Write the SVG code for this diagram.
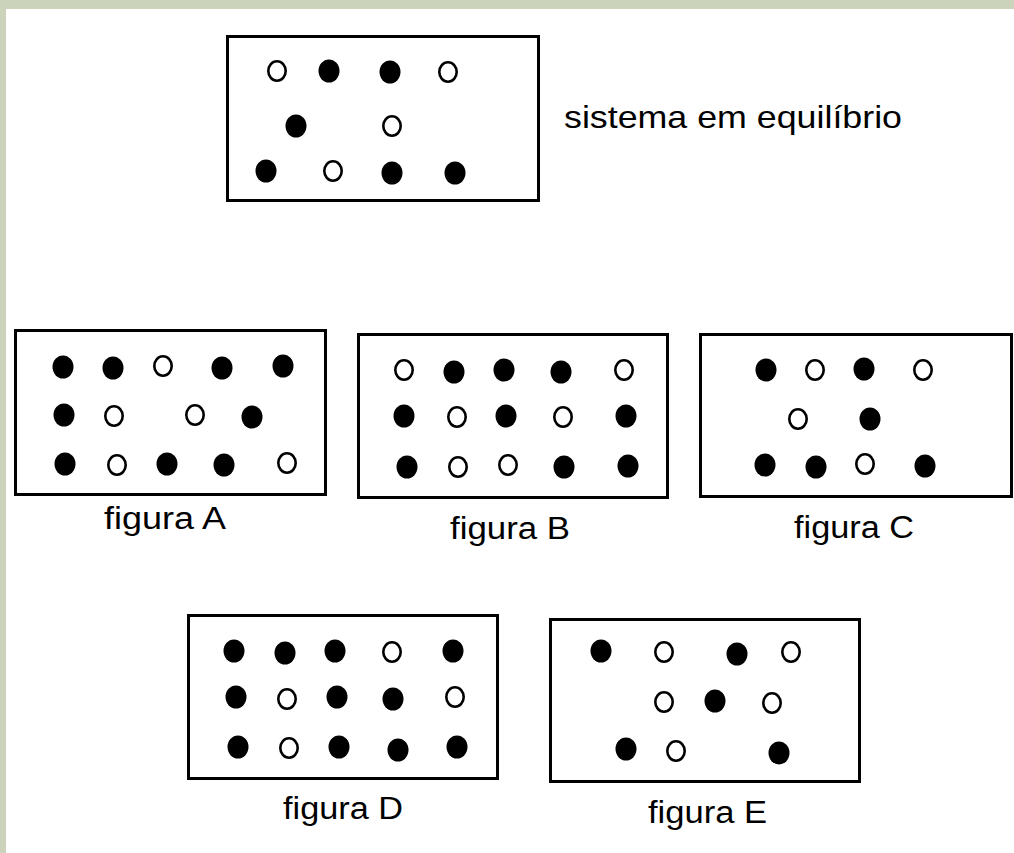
<svg xmlns="http://www.w3.org/2000/svg" width="1014" height="853" viewBox="0 0 1014 853">
  <style>
    .bg { fill: #ffffff; }
    .band { fill: #ccd3bb; }
    .box { fill: #ffffff; stroke: #000000; stroke-width: 3; }
    .f { fill: #000000; }
    .o { fill: #ffffff; stroke: #000000; stroke-width: 2.6; }
    .lbl { font-family: "Liberation Sans", Arial, sans-serif; font-size: 31px; fill: #000000; }
    .big { font-size: 32px; }
  </style>
  <defs>
    <ellipse id="fc" class="f" cx="0" cy="0" rx="10.5" ry="11.5"/>
    <ellipse id="oc" class="o" cx="0" cy="0" rx="8.7" ry="9.8"/>
  </defs>
  <rect class="bg" x="0" y="0" width="1014" height="853"/>
  <rect class="band" x="0" y="0" width="1014" height="9"/>
  <rect class="band" x="0" y="0" width="6" height="853"/>

  <g id="equilibrio">
    <rect class="box" x="227.5" y="36.5" width="311" height="164"/>
    <use href="#oc" x="277" y="71"/>
    <use href="#fc" x="329" y="71"/>
    <use href="#fc" x="390" y="72"/>
    <use href="#oc" x="448" y="72"/>
    <use href="#fc" x="296" y="126"/>
    <use href="#oc" x="392" y="126"/>
    <use href="#fc" x="266" y="171"/>
    <use href="#oc" x="333" y="171"/>
    <use href="#fc" x="392" y="173"/>
    <use href="#fc" x="455" y="173"/>
    <text class="lbl big" x="564" y="128" textLength="338" lengthAdjust="spacingAndGlyphs">sistema em equilíbrio</text>
  </g>

  <g id="figuraA">
    <rect class="box" x="15.5" y="330.5" width="310" height="164"/>
    <use href="#fc" x="63" y="367"/>
    <use href="#fc" x="113" y="368"/>
    <use href="#oc" x="163" y="366"/>
    <use href="#fc" x="222" y="368"/>
    <use href="#fc" x="283" y="366"/>
    <use href="#fc" x="64" y="415"/>
    <use href="#oc" x="114" y="416"/>
    <use href="#oc" x="195" y="415"/>
    <use href="#fc" x="252" y="417"/>
    <use href="#fc" x="65" y="464"/>
    <use href="#oc" x="117" y="465"/>
    <use href="#fc" x="167" y="464"/>
    <use href="#fc" x="224" y="465"/>
    <use href="#oc" x="287" y="463"/>
    <text class="lbl" x="104" y="529" textLength="122" lengthAdjust="spacingAndGlyphs">figura A</text>
  </g>

  <g id="figuraB">
    <rect class="box" x="358.5" y="334.5" width="309" height="163"/>
    <use href="#oc" x="404" y="370"/>
    <use href="#fc" x="454" y="372"/>
    <use href="#fc" x="504" y="370"/>
    <use href="#fc" x="561" y="372"/>
    <use href="#oc" x="624" y="370"/>
    <use href="#fc" x="404" y="416"/>
    <use href="#oc" x="457" y="417"/>
    <use href="#fc" x="506" y="416"/>
    <use href="#oc" x="563" y="417"/>
    <use href="#fc" x="626" y="416"/>
    <use href="#fc" x="407" y="467"/>
    <use href="#oc" x="458" y="467"/>
    <use href="#oc" x="508" y="465"/>
    <use href="#fc" x="564" y="467"/>
    <use href="#fc" x="628" y="466"/>
    <text class="lbl" x="450" y="539" textLength="120" lengthAdjust="spacingAndGlyphs">figura B</text>
  </g>

  <g id="figuraC">
    <rect class="box" x="700.5" y="334.5" width="311" height="162"/>
    <use href="#fc" x="766" y="370"/>
    <use href="#oc" x="815" y="370"/>
    <use href="#fc" x="864" y="369"/>
    <use href="#oc" x="923" y="370"/>
    <use href="#oc" x="798" y="419"/>
    <use href="#fc" x="870" y="419"/>
    <use href="#fc" x="765" y="465"/>
    <use href="#fc" x="816" y="467"/>
    <use href="#oc" x="865" y="464"/>
    <use href="#fc" x="925" y="466"/>
    <text class="lbl" x="794" y="538" textLength="120" lengthAdjust="spacingAndGlyphs">figura C</text>
  </g>

  <g id="figuraD">
    <rect class="box" x="188.5" y="615.5" width="309" height="163"/>
    <use href="#fc" x="234" y="651"/>
    <use href="#fc" x="285" y="653"/>
    <use href="#fc" x="335" y="651"/>
    <use href="#oc" x="392" y="652"/>
    <use href="#fc" x="453" y="651"/>
    <use href="#fc" x="236" y="697"/>
    <use href="#oc" x="287" y="699"/>
    <use href="#fc" x="337" y="697"/>
    <use href="#fc" x="393" y="699"/>
    <use href="#oc" x="455" y="697"/>
    <use href="#fc" x="238" y="747"/>
    <use href="#oc" x="289" y="748"/>
    <use href="#fc" x="339" y="747"/>
    <use href="#fc" x="398" y="750"/>
    <use href="#fc" x="457" y="747"/>
    <text class="lbl" x="283" y="819" textLength="120" lengthAdjust="spacingAndGlyphs">figura D</text>
  </g>

  <g id="figuraE">
    <rect class="box" x="550.5" y="619.5" width="309" height="162"/>
    <use href="#fc" x="601" y="651"/>
    <use href="#oc" x="664" y="652"/>
    <use href="#fc" x="737" y="654"/>
    <use href="#oc" x="791" y="652"/>
    <use href="#oc" x="664" y="702"/>
    <use href="#fc" x="715" y="701"/>
    <use href="#oc" x="772" y="703"/>
    <use href="#fc" x="626" y="749"/>
    <use href="#oc" x="676" y="751"/>
    <use href="#fc" x="779" y="753"/>
    <text class="lbl" x="648" y="823" textLength="119" lengthAdjust="spacingAndGlyphs">figura E</text>
  </g>
</svg>
